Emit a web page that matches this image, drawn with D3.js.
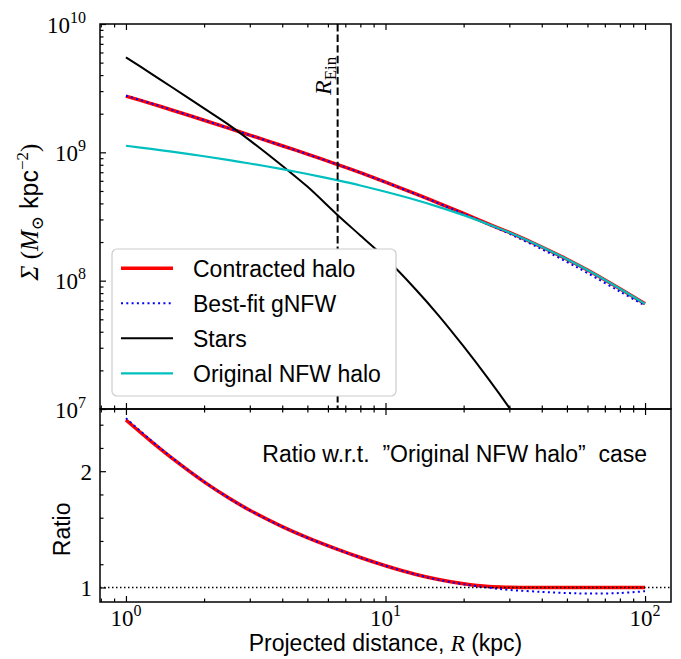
<!DOCTYPE html>
<html>
<head>
<meta charset="utf-8">
<script src="https://cdn.jsdelivr.net/npm/d3@7"></script>
<style>
  body { margin: 0; background: #fff; }
  svg { display: block; }
  .serif { font-family: "Liberation Serif", "DejaVu Serif", serif; }
  .sans { font-family: "Liberation Sans", "DejaVu Sans", sans-serif; }
</style>
</head>
<body>
<div id="chart"></div>
<script>
const W = 681;
const H = 659;

// projected radius (kpc)
const radius = [1, 1.25, 1.5, 2, 2.5, 3, 4, 5, 6.5, 8, 10, 13, 16, 20, 25, 30, 40, 50, 60, 80, 100];
// surface densities (Msun kpc^-2)
const sigmaContracted = [2.745e9, 2.398e9, 2.139e9, 1.778e9, 1.536e9, 1.363e9, 1.126e9, 9.69e8, 8.07e8, 6.94e8,
    5.85e8, 4.76e8, 4.02e8, 3.34e8, 2.76e8, 2.375e8, 1.83e8, 1.47e8, 1.21e8, 8.65e7, 6.6e7];
const sigmaGNFW = [2.762e9, 2.408e9, 2.143e9, 1.779e9, 1.536e9, 1.362e9, 1.125e9, 9.68e8, 8.07e8, 6.94e8,
    5.85e8, 4.75e8, 4.01e8, 3.33e8, 2.73e8, 2.32e8, 1.76e8, 1.40e8, 1.147e8, 8.23e7, 6.39e7];
const sigmaNFW = [1.125e9, 1.063e9, 1.012e9, 9.32e8, 8.69e8, 8.19e8, 7.39e8, 6.78e8, 6.07e8, 5.52e8,
    4.93e8, 4.27e8, 3.76e8, 3.24e8, 2.74e8, 2.37e8, 1.83e8, 1.47e8, 1.21e8, 8.65e7, 6.6e7];

const radiusStars = [1, 1.25, 1.5, 2, 2.5, 3, 4, 5, 6.5, 8, 10, 13, 16, 20, 25, 30, 40];
const sigmaStars = [5.5e9, 4.11e9, 3.23e9, 2.20e9, 1.63e9, 1.24e9, 7.85e8, 5.41e8, 3.28e8, 2.25e8,
    1.5e8, 8.65e7, 5.37e7, 3.07e7, 1.70e7, 1.02e7, 4.36e6];

// ratios w.r.t. original NFW halo
const ratioContracted = [2.44, 2.256, 2.114, 1.908, 1.767, 1.664, 1.524, 1.429, 1.330, 1.258, 1.187, 1.114, 1.069,
    1.032, 1.008, 1.002, 1.0, 1.0, 1.0, 1.0, 1.0];
const ratioGNFW = [2.455, 2.265, 2.118, 1.909, 1.767, 1.663, 1.523, 1.428, 1.329, 1.257, 1.186, 1.113, 1.066,
    1.028, 0.998, 0.979, 0.962, 0.952, 0.948, 0.952, 0.968];

const rEin = 6.54;

const xMajor = [1, 10, 100];
const xMinor = [0.8, 0.9, 2, 3, 4, 5, 6, 7, 8, 9, 20, 30, 40, 50, 60, 70, 80, 90];
const yTopMajor = [1e7, 1e8, 1e9, 1e10];
const yTopMinor = [2, 3, 4, 5, 6, 7, 8, 9].flatMap(m => [m * 1e7, m * 1e8, m * 1e9]);
const yBotMajor = [1, 2];
const yBotMinor = [1.2, 1.4, 1.6, 1.8, 2.2, 2.4];

const legendNames = ["Contracted halo", "Best-fit gNFW", "Stars", "Original NFW halo"];

const pLeft = 100, pRight = 671, pTop = 24, pMid = 409, pBottom = 602;

const x = d3.scaleLog().domain([Math.pow(10, -0.1), Math.pow(10, 2.1)]).range([pLeft, pRight]);
const yTop = d3.scaleLog().domain([1e7, 1e10]).range([pMid, pTop]);
const yBot = d3.scaleLinear().domain([0.875, 2.535]).range([pBottom, pMid]);

const svg = d3.select("#chart").append("svg")
    .attr("width", W)
    .attr("height", H);

svg.append("clipPath").attr("id", "clipTop")
    .append("rect").attr("x", pLeft).attr("y", pTop).attr("width", pRight - pLeft).attr("height", pMid - pTop);
svg.append("clipPath").attr("id", "clipBot")
    .append("rect").attr("x", pLeft).attr("y", pMid).attr("width", pRight - pLeft).attr("height", pBottom - pMid);

const smooth = d3.curveCatmullRom.alpha(0.5);

// ---- top panel curves
const lineTop = (xs, ys) => d3.line()
    .x((d, i) => x(xs[i]))
    .y(d => yTop(d))
    .curve(smooth)(ys);

const gTop = svg.append("g").attr("clip-path", "url(#clipTop)");

gTop.append("path")
    .attr("d", lineTop(radius, sigmaContracted))
    .attr("fill", "none").attr("stroke", "#ff0000").attr("stroke-width", 3.5);
gTop.append("path")
    .attr("d", lineTop(radius, sigmaGNFW))
    .attr("fill", "none").attr("stroke", "#0000ff").attr("stroke-width", 2)
    .attr("stroke-dasharray", "2,3.3");
gTop.append("path")
    .attr("d", lineTop(radiusStars, sigmaStars))
    .attr("fill", "none").attr("stroke", "#000").attr("stroke-width", 2);
gTop.append("path")
    .attr("d", lineTop(radius, sigmaNFW))
    .attr("fill", "none").attr("stroke", "#00bfbf").attr("stroke-width", 2.2);

// Einstein radius
gTop.append("line")
    .attr("x1", x(rEin)).attr("x2", x(rEin))
    .attr("y1", pTop).attr("y2", pMid)
    .attr("stroke", "#000").attr("stroke-width", 2)
    .attr("stroke-dasharray", "7.4,3.2");

const ein = svg.append("text")
    .attr("class", "serif")
    .attr("transform", `translate(${x(rEin) - 7},95) rotate(-90)`)
    .attr("font-size", 24);
ein.append("tspan").attr("font-style", "italic").text("R");
ein.append("tspan").attr("font-size", 17).attr("dy", 5).text("Ein");

// ---- bottom panel curves
const lineBot = (xs, ys) => d3.line()
    .x((d, i) => x(xs[i]))
    .y(d => yBot(d))
    .curve(smooth)(ys);

const gBot = svg.append("g").attr("clip-path", "url(#clipBot)");
gBot.append("path")
    .attr("d", lineBot(radius, ratioContracted))
    .attr("fill", "none").attr("stroke", "#ff0000").attr("stroke-width", 3.5);
gBot.append("path")
    .attr("d", lineBot(radius, ratioGNFW))
    .attr("fill", "none").attr("stroke", "#0000ff").attr("stroke-width", 2)
    .attr("stroke-dasharray", "2,3.3");
gBot.append("line")
    .attr("x1", pLeft).attr("x2", pRight)
    .attr("y1", yBot(1)).attr("y2", yBot(1))
    .attr("stroke", "#000").attr("stroke-width", 1.5)
    .attr("stroke-dasharray", "1.5,2.5");

svg.append("text")
    .attr("class", "sans")
    .attr("x", 647).attr("y", 462)
    .attr("text-anchor", "end")
    .attr("font-size", 23)
    .style("white-space", "pre")
    .text("Ratio w.r.t.  \u201dOriginal NFW halo\u201d  case");

// ---- axes
const addAxis = (axisFn, scale, vals, size, tx, ty) => {
    const g = svg.append("g")
        .attr("transform", `translate(${tx},${ty})`)
        .call(axisFn(scale).tickValues(vals).tickSize(size).tickFormat(""));
    g.select(".domain").remove();
    g.selectAll("line").attr("stroke-width", 1.2);
    return g;
};

// x ticks (top panel top, top panel bottom, bottom panel top, bottom panel bottom)
addAxis(d3.axisTop, x, xMajor, -6, 0, pTop);
addAxis(d3.axisTop, x, xMinor, -3.5, 0, pTop);
addAxis(d3.axisBottom, x, xMajor, -6, 0, pMid);
addAxis(d3.axisBottom, x, xMinor, -3.5, 0, pMid);
addAxis(d3.axisTop, x, xMajor, -6, 0, pMid);
addAxis(d3.axisTop, x, xMinor, -3.5, 0, pMid);
addAxis(d3.axisBottom, x, xMajor, -6, 0, pBottom);
addAxis(d3.axisBottom, x, xMinor, -3.5, 0, pBottom);
// y ticks
addAxis(d3.axisLeft, yTop, yTopMajor, -6, pLeft, 0);
addAxis(d3.axisLeft, yTop, yTopMinor, -3.5, pLeft, 0);
addAxis(d3.axisLeft, yBot, yBotMajor, -6, pLeft, 0);
addAxis(d3.axisLeft, yBot, yBotMinor, -3.5, pLeft, 0);

// power-of-ten labels
const powLabel = (sel, exp) => {
    sel.append("tspan").text("10");
    sel.append("tspan").attr("font-size", 16).attr("dy", -10).text(exp);
};

yTopMajor.forEach(v => {
    const t = svg.append("text").attr("class", "serif")
        .attr("x", pLeft - 14).attr("y", yTop(v) + 8.5)
        .attr("text-anchor", "end").attr("font-size", 23);
    powLabel(t, Math.round(Math.log10(v)));
});
xMajor.forEach(v => {
    const t = svg.append("text").attr("class", "serif")
        .attr("x", x(v)).attr("y", 626)
        .attr("text-anchor", "middle").attr("font-size", 23);
    powLabel(t, Math.round(Math.log10(v)));
});
yBotMajor.forEach(v => {
    svg.append("text").attr("class", "serif")
        .attr("x", pLeft - 8).attr("y", yBot(v) + 8.5)
        .attr("text-anchor", "end").attr("font-size", 23)
        .text(v);
});

// spines
svg.append("rect")
    .attr("x", pLeft).attr("y", pTop).attr("width", pRight - pLeft).attr("height", pMid - pTop)
    .attr("fill", "none").attr("stroke", "#000").attr("stroke-width", 1.5);
svg.append("rect")
    .attr("x", pLeft).attr("y", pMid).attr("width", pRight - pLeft).attr("height", pBottom - pMid)
    .attr("fill", "none").attr("stroke", "#000").attr("stroke-width", 1.5);

// axis labels
svg.append("text")
    .attr("x", (pLeft + pRight) / 2).attr("y", 651)
    .attr("text-anchor", "middle").attr("font-size", 23)
    .call(t => {
        t.append("tspan").attr("class", "sans").text("Projected distance, ");
        t.append("tspan").attr("class", "serif").attr("font-style", "italic").text("R");
        t.append("tspan").attr("class", "sans").text(" (kpc)");
    });

svg.append("text")
    .attr("transform", "translate(38,212) rotate(-90)")
    .attr("text-anchor", "middle").attr("font-size", 25)
    .call(t => {
        t.append("tspan").attr("class", "serif").attr("font-style", "italic").text("\u03a3");
        t.append("tspan").attr("class", "serif").text(" (");
        t.append("tspan").attr("class", "serif").attr("font-style", "italic").text("M");
        t.append("tspan").attr("class", "serif").attr("font-size", 17).attr("dy", 5).text("\u2299");
        t.append("tspan").attr("class", "sans").attr("dy", -5).text(" kpc");
        t.append("tspan").attr("class", "serif").attr("font-size", 17).attr("dy", -10).text("\u22122");
        t.append("tspan").attr("class", "serif").attr("dy", 10).text(")");
    });

svg.append("text")
    .attr("class", "sans")
    .attr("transform", `translate(70,${yBot(1.5)}) rotate(-90)`)
    .attr("text-anchor", "middle").attr("font-size", 23)
    .text("Ratio");

// ---- legend
const legend = svg.append("g").attr("transform", "translate(112,249)");
legend.append("rect")
    .attr("width", 284).attr("height", 147)
    .attr("rx", 5)
    .attr("fill", "#fff").attr("stroke", "#cccccc").attr("stroke-width", 1.2);

const legendStyle = [
    {color: "#ff0000", width: 3.5, dash: null},
    {color: "#0000ff", width: 2, dash: "2,3.3"},
    {color: "#000", width: 2, dash: null},
    {color: "#00bfbf", width: 2.2, dash: null}
];

legend.selectAll("g.item")
    .data(legendNames)
    .join("g")
    .attr("class", "item")
    .attr("transform", (d, i) => `translate(0,${19.3 + i * 35})`)
    .each(function (d, i) {
        const g = d3.select(this);
        g.append("line")
            .attr("x1", 9).attr("x2", 61)
            .attr("stroke", legendStyle[i].color)
            .attr("stroke-width", legendStyle[i].width)
            .attr("stroke-dasharray", legendStyle[i].dash);
        g.append("text")
            .attr("class", "sans")
            .attr("x", 81).attr("y", 8.3)
            .attr("font-size", 23)
            .text(d);
    });
</script>
</body>
</html>
